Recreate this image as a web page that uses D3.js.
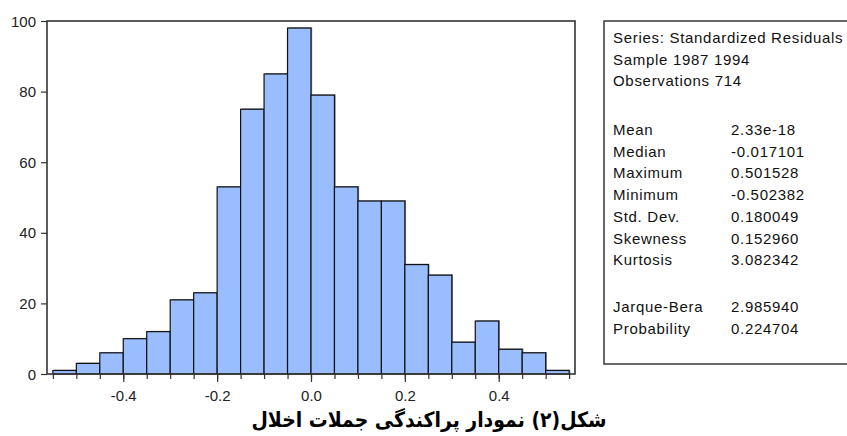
<!DOCTYPE html>
<html><head><meta charset="utf-8">
<script src="https://cdn.jsdelivr.net/npm/d3@7"></script>
<style>
html,body{margin:0;padding:0;background:#fff;}
svg{display:block;}
</style></head>
<body>
<svg id="c" width="847" height="436"></svg>
<script>
// ---- data ----
const binEdges = [-0.55,-0.50,-0.45,-0.40,-0.35,-0.30,-0.25,-0.20,-0.15,-0.10,-0.05,0.00,0.05,0.10,0.15,0.20,0.25,0.30,0.35,0.40,0.45,0.50,0.55];
const counts   = [1,3,6,10,12,21,23,53,75,85,98,79,53,49,49,31,28,9,15,7,6,1];
const xTickValues = [-0.4,-0.2,0.0,0.2,0.4];
const yTickValues = [0,20,40,60,80,100];
const headerLines = ["Series: Standardized Residuals","Sample 1987 1994","Observations 714"];
const statLabels = ["Mean","Median","Maximum","Minimum","Std. Dev.","Skewness","Kurtosis"];
const statValues = ["2.33e-18","-0.017101","0.501528","-0.502382","0.180049","0.152960","3.082342"];
const testLabels = ["Jarque-Bera","Probability"];
const testValues = ["2.985940","0.224704"];
const title = "شکل(۲) نمودار پراکندگی جملات اخلال";

// ---- layout ----
const svg = d3.select("#c");
const plot = {left:47, top:21, right:575, bottom:374};
const x = d3.scaleLinear().domain([-0.5625,0.5625]).range([plot.left, plot.right]);
const y = d3.scaleLinear().domain([0,100]).range([plot.bottom, plot.top]);
const font = "'Liberation Sans', Arimo, Arial, sans-serif";

const bins = counts.map((c,i)=>({x0:binEdges[i], x1:binEdges[i+1], n:c}));

// bar shadows
svg.append("g").selectAll("rect").data(bins).join("rect")
  .attr("x", d=>x(d.x0)+1.2).attr("y", d=>y(d.n)-0.8)
  .attr("width", d=>x(d.x1)-x(d.x0)).attr("height", d=>y(0)-y(d.n)+0.8)
  .attr("fill","#6b7280").attr("opacity",0.8);
// bars
svg.append("g").selectAll("rect").data(bins).join("rect")
  .attr("x", d=>x(d.x0)).attr("y", d=>y(d.n))
  .attr("width", d=>x(d.x1)-x(d.x0)).attr("height", d=>y(0)-y(d.n))
  .attr("fill","#99bdff").attr("stroke","#111").attr("stroke-width",1.2);

// frame
svg.append("rect").attr("x",plot.left).attr("y",plot.top)
  .attr("width",plot.right-plot.left).attr("height",plot.bottom-plot.top)
  .attr("fill","none").attr("stroke","#333").attr("stroke-width",1.6);

// y axis
const yAxis = d3.axisLeft(y).tickValues(yTickValues).tickSize(6).tickPadding(5).tickFormat(d3.format("d"));
const gy = svg.append("g").attr("transform",`translate(${plot.left},0)`).call(yAxis);
gy.select(".domain").remove();
gy.selectAll("line").attr("stroke","#333").attr("stroke-width",1.2);
gy.selectAll("text").attr("font-family",font).attr("font-size",15).attr("fill","#222").attr("dy","0.34em");

// x axis minor ticks
const xMinor = d3.axisBottom(x).tickValues(binEdges).tickSize(5).tickFormat("");
const gxm = svg.append("g").attr("transform",`translate(0,${plot.bottom})`).call(xMinor);
gxm.select(".domain").remove();
gxm.selectAll("line").attr("stroke","#333").attr("stroke-width",1.2);
// x axis major
const fmt1 = d3.format(".1f");
const xAxis = d3.axisBottom(x).tickValues(xTickValues).tickSize(8).tickPadding(8)
  .tickFormat(d => fmt1(d).replace("\u2212","-"));
const gx = svg.append("g").attr("transform",`translate(0,${plot.bottom})`).call(xAxis);
gx.select(".domain").remove();
gx.selectAll("line").attr("stroke","#333").attr("stroke-width",1.2);
gx.selectAll("text").attr("font-family",font).attr("font-size",15).attr("fill","#222");

// stats box
const box = {left:604, top:21, bottom:364};
svg.append("rect").attr("x",box.left).attr("y",box.top)
  .attr("width",300).attr("height",box.bottom-box.top)
  .attr("fill","#fff").attr("stroke","#444").attr("stroke-width",1.6);

const labelX = 613, valueX = 731, pitch = 21.7;
const tg = svg.append("g").attr("font-family",font).attr("font-size",15).attr("fill","#111").attr("letter-spacing","0.7px");
headerLines.forEach((t,i)=>{
  tg.append("text").attr("x",labelX).attr("y",43+i*pitch).text(t);
});
const statTop = 135;
statLabels.forEach((t,i)=>{
  tg.append("text").attr("x",labelX).attr("y",statTop+i*pitch).text(t);
  tg.append("text").attr("x",valueX).attr("y",statTop+i*pitch).text(statValues[i]);
});
const testTop = 312;
testLabels.forEach((t,i)=>{
  tg.append("text").attr("x",labelX).attr("y",testTop+i*pitch).text(t);
  tg.append("text").attr("x",valueX).attr("y",testTop+i*pitch).text(testValues[i]);
});

// title
svg.append("text").attr("x",429).attr("y",427)
  .attr("text-anchor","middle").attr("direction","rtl")
  .attr("font-family","'DejaVu Sans', 'Noto Sans', sans-serif").attr("font-weight","bold")
  .attr("font-size",21).attr("fill","#000")
  .attr("textLength",355).attr("lengthAdjust","spacingAndGlyphs")
  .text(title);
</script>
</body></html>
